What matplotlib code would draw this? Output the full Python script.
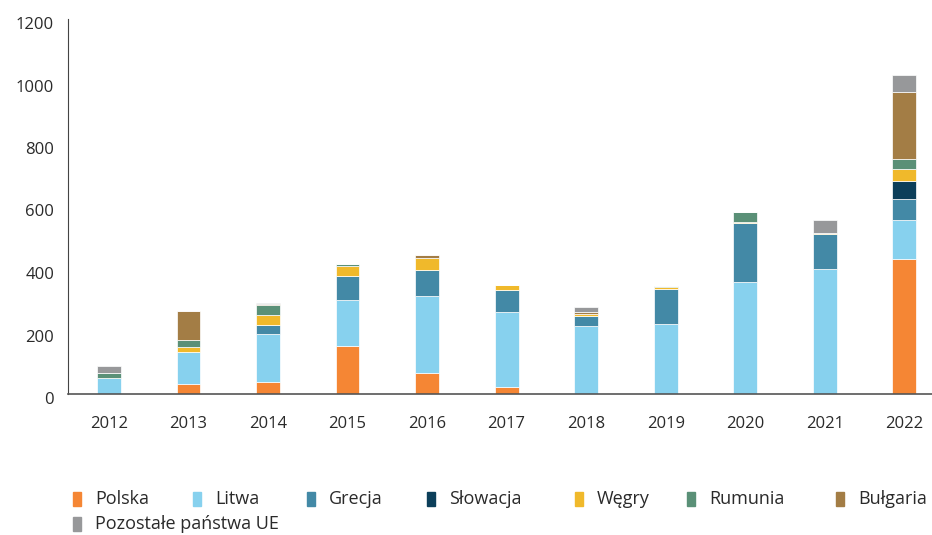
import numpy as np
import matplotlib.pyplot as plt
import matplotlib.transforms as mtransforms
from matplotlib.patches import Rectangle

# years and stacked series
years = ['2012', '2013', '2014', '2015', '2016', '2017', '2018', '2019', '2020', '2021', '2022']
polska = [0, 33, 38, 155, 67, 24, 0, 0, 0, 0, 431]
litwa = [52, 101, 154, 146, 246, 237, 218, 225, 358, 399, 126]
grecja = [0, 0, 30, 78, 85, 72, 32, 111, 189, 112, 67]
slowacja = [0, 0, 0, 0, 0, 0, 0, 0, 0, 0, 58]
wegry = [0, 16, 30, 31, 36, 15, 7, 6, 5, 5, 39]
rumunia = [15, 24, 32, 5, 0, 0, 0, 3, 29, 0, 32]
bulgaria = [0, 91, 3, 0, 12, 0, 7, 0, 0, 0, 214]
pozostale = [23, 0, 4, 2, 0, 0, 16, 0, 0, 40, 53]

series = [
    ('Polska', polska, '#F58634'),
    ('Litwa', litwa, '#87D1EE'),
    ('Grecja', grecja, '#4389A6'),
    ('Słowacja', slowacja, '#0C3F5A'),
    ('Węgry', wegry, '#F0B92B'),
    ('Rumunia', rumunia, '#5A9077'),
    ('Bułgaria', bulgaria, '#A37D45'),
    ('Pozostałe państwa UE', pozostale, '#97989A'),
]

plt.rcParams['font.family'] = ['Open Sans', 'DejaVu Sans']

W, H = 932, 535
fig = plt.figure(figsize=(W / 100, H / 100), dpi=100)
ax = fig.add_axes([68 / W, 1 - 394 / H, 1 - 68 / W, (394 - 19) / H])

x = np.arange(len(years))
bottom = np.zeros(len(years))
for name, vals, col in series:
    vals = np.array(vals, dtype=float)
    ax.bar(x, vals, width=0.3, bottom=bottom, color=col, edgecolor='white',
           linewidth=0.5, label=name)
    bottom += vals

ax.set_xlim(-0.516, 10.35)
ax.set_ylim(0, 1200)
ax.set_yticks(range(0, 1201, 200))
ax.set_xticks(x)
ax.set_xticklabels(years)
ax.tick_params(axis='both', length=0, labelsize=12, colors='#2a2a2a')
ax.tick_params(axis='x', pad=16)
ax.tick_params(axis='y', pad=10)
# reference y labels sit a few pixels low
shift = mtransforms.ScaledTranslation(0, -4 / 100, fig.dpi_scale_trans)
for lab in ax.get_yticklabels():
    lab.set_transform(lab.get_transform() + shift)
for s in ['top', 'right']:
    ax.spines[s].set_visible(False)
ax.spines['left'].set_color('#444444')
ax.spines['bottom'].set_color('#555555')
ax.spines['bottom'].set_linewidth(1.2)

# legend laid out like the reference: 7 entries in row one, 1 in row two
marker_x = [73, 193, 307, 427, 575, 687, 836, 73]
row_y = [499, 524]
rows = [0, 0, 0, 0, 0, 0, 0, 1]
for (name, vals, col), mx, r in zip(series, marker_x, rows):
    cy = row_y[r]
    fig.patches.append(Rectangle((mx / W, 1 - (cy + 7) / H), 7.5 / W, 14 / H,
                                 transform=fig.transFigure, color=col))
    fig.text((mx + 22) / W, 1 - cy / H, name, fontsize=13, color='#2a2a2a',
             va='center', ha='left')

fig.savefig('out.png', dpi=100)
